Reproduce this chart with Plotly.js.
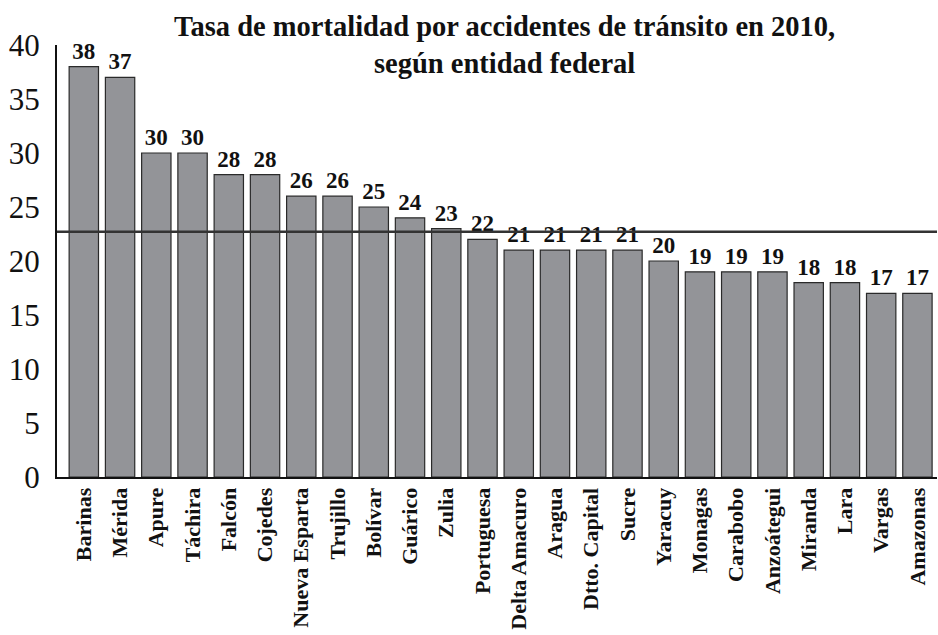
<!DOCTYPE html>
<html>
<head>
<meta charset="utf-8">
<script src="https://cdn.plot.ly/plotly-3.0.1.min.js"></script>
<style>
  html, body { margin: 0; padding: 0; background: #fff; }
  #chart { width: 938px; height: 635px; }
</style>
</head>
<body>
<div id="chart"></div>
<script>
const categories = ["Barinas", "Mérida", "Apure", "Táchira", "Falcón", "Cojedes", "Nueva Esparta", "Trujillo", "Bolívar", "Guárico", "Zulia", "Portuguesa", "Delta Amacuro", "Aragua", "Dtto. Capital", "Sucre", "Yaracuy", "Monagas", "Carabobo", "Anzoátegui", "Miranda", "Lara", "Vargas", "Amazonas"];
const values = [38, 37, 30, 30, 28, 28, 26, 26, 25, 24, 23, 22, 21, 21, 21, 21, 20, 19, 19, 19, 18, 18, 17, 17];
const nationalRate = 22.7;
const yTicks = [0, 5, 10, 15, 20, 25, 30, 35, 40];
const titleText = "Tasa de mortalidad por accidentes de tránsito en 2010,<br>según entidad federal";

const FONT = "'Liberation Serif', 'Times New Roman', Times, serif";

const trace = {
  type: "bar",
  x: categories,
  y: values,
  text: values.map(String),
  textposition: "outside",
  cliponaxis: false,
  constraintext: "none",
  textfont: { family: FONT, size: 23, weight: "bold", color: "#111" },
  marker: { color: "#939498", line: { color: "#2a2a2a", width: 1.2 } },
  hoverinfo: "x+y"
};

const layout = {
  width: 938,
  height: 635,
  paper_bgcolor: "#ffffff",
  plot_bgcolor: "#ffffff",
  margin: { l: 57, r: 1, t: 45, b: 158 },
  bargap: 0.19,
  showlegend: false,
  font: { family: FONT, color: "#111" },
  title: {
    text: titleText,
    font: { family: FONT, size: 28.5, weight: "bold", color: "#111" },
    xref: "container",
    x: 0.538,
    xanchor: "center",
    yref: "container",
    y: 1,
    yanchor: "top",
    pad: { t: 36 }
  },
  xaxis: {
    type: "category",
    range: [-0.74, 23.54],
    showline: true,
    linewidth: 2,
    linecolor: "#111",
    showgrid: false,
    zeroline: false,
    ticks: "",
    tickangle: -90,
    ticklabelstandoff: 0,
    tickfont: { family: FONT, size: 22, weight: "bold", color: "#111" }
  },
  yaxis: {
    range: [0, 40],
    showline: true,
    linewidth: 2,
    linecolor: "#111",
    showgrid: false,
    zeroline: false,
    ticks: "",
    tickmode: "array",
    tickvals: yTicks,
    ticktext: yTicks.map(String),
    ticklabelstandoff: 9,
    tickfont: { family: FONT, size: 31, color: "#111" }
  },
  shapes: [{
    type: "line",
    xref: "paper",
    yref: "y",
    x0: 0,
    x1: 1,
    y0: nationalRate,
    y1: nationalRate,
    layer: "above",
    line: { color: "#333333", width: 2.5 }
  }]
};

Plotly.newPlot("chart", [trace], layout, { displayModeBar: false, staticPlot: true });
</script>
</body>
</html>
